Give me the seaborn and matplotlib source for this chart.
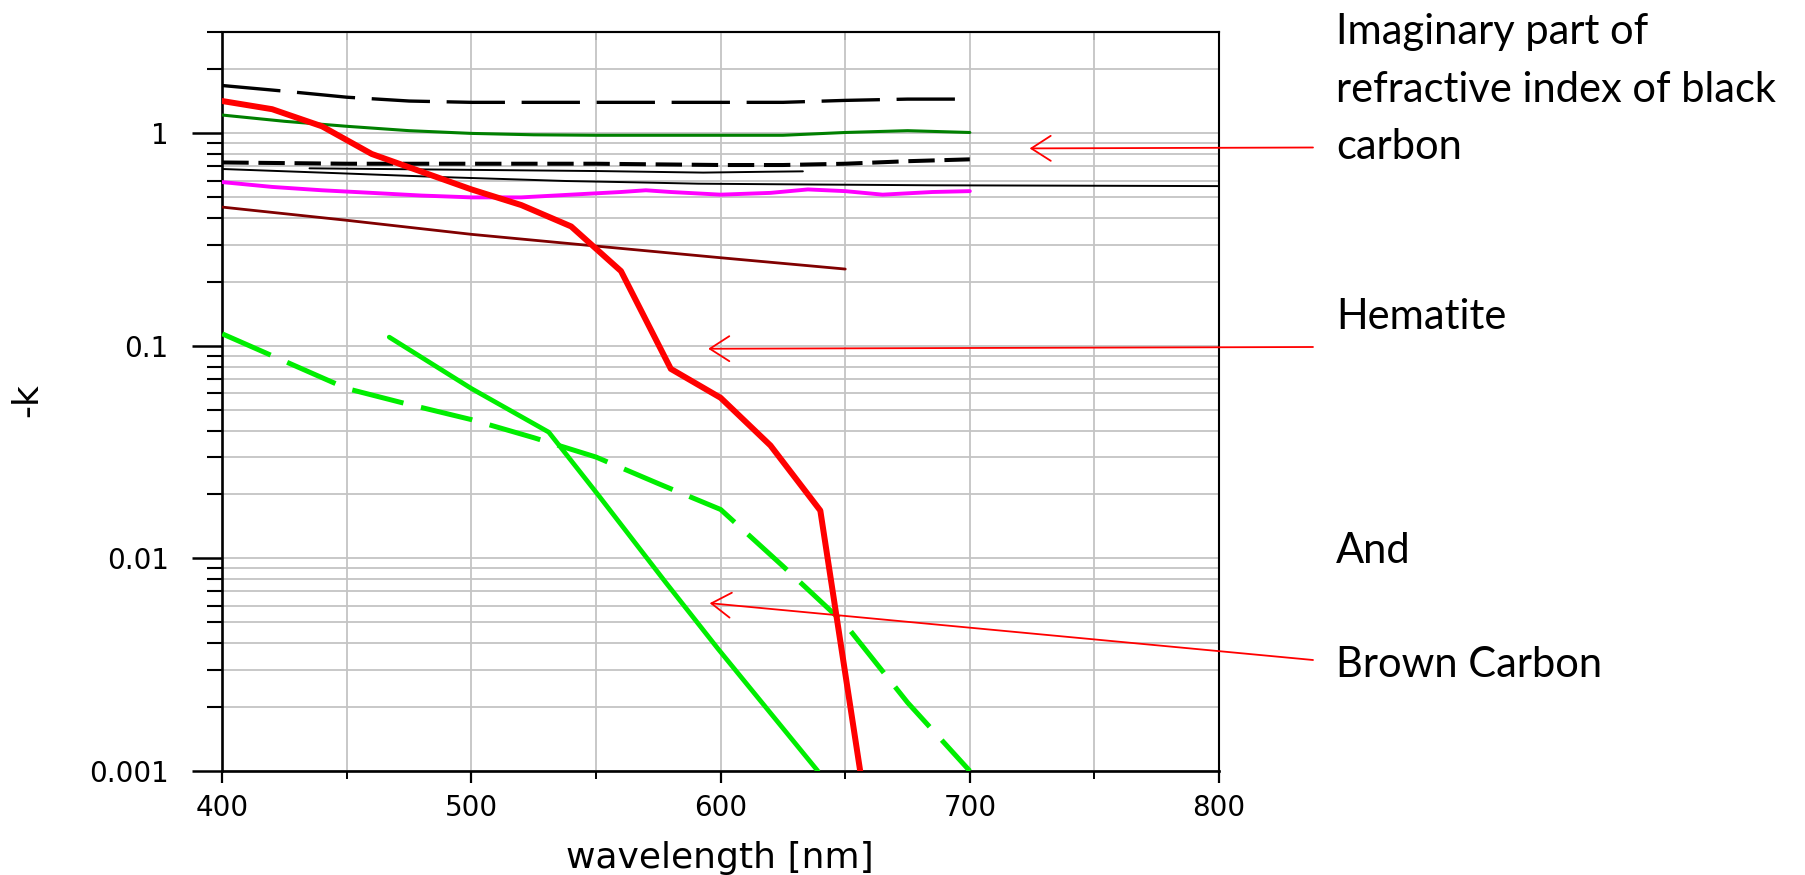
import matplotlib
matplotlib.use("Agg")
import numpy as np
import pandas as pd
import matplotlib.pyplot as plt
import seaborn as sns
from matplotlib.ticker import LogLocator, FixedLocator, NullFormatter, FuncFormatter

# ---- imaginary part of refractive index (-k) versus wavelength [nm] ----
# black carbon curves
bc_dash_long_wl = [400, 425, 450, 475, 500, 550, 600, 625, 650, 675, 700]
bc_dash_long_k = [1.68, 1.58, 1.48, 1.42, 1.40, 1.40, 1.40, 1.40, 1.43, 1.45, 1.45]

bc_green_wl = [400, 425, 450, 475, 500, 525, 550, 600, 625, 650, 675, 700]
bc_green_k = [1.22, 1.14, 1.08, 1.03, 1.00, 0.985, 0.98, 0.98, 0.98, 1.01, 1.03, 1.01]

bc_dash_short_wl = [400, 450, 500, 550, 600, 625, 650, 675, 700]
bc_dash_short_k = [0.73, 0.72, 0.72, 0.72, 0.71, 0.71, 0.72, 0.74, 0.755]

bc_thin_long_wl = [400, 446, 488, 517, 538, 561, 591, 626, 685, 800]
bc_thin_long_k = [0.68, 0.65, 0.623, 0.608, 0.597, 0.59, 0.58, 0.576, 0.57, 0.565]

bc_thin_short_wl = [435, 551, 593, 618, 633]
bc_thin_short_k = [0.685, 0.665, 0.654, 0.66, 0.663]

bc_magenta_wl = [400, 420, 440, 460, 480, 500, 520, 540, 560, 570, 580, 600, 620, 635, 650, 665, 685, 700]
bc_magenta_k = [0.59, 0.56, 0.54, 0.525, 0.51, 0.50, 0.50, 0.515, 0.53, 0.54, 0.53, 0.515, 0.525, 0.545, 0.535, 0.515, 0.53, 0.535]

bc_maroon_wl = [400, 450, 500, 550, 600, 650]
bc_maroon_k = [0.45, 0.39, 0.335, 0.295, 0.26, 0.23]

# hematite
hematite_wl = [400, 420, 440, 460, 480, 500, 520, 540, 560, 580, 600, 620, 640, 656]
hematite_k = [1.42, 1.30, 1.08, 0.80, 0.66, 0.545, 0.46, 0.365, 0.225, 0.078, 0.057, 0.034, 0.0168, 0.001]

# brown carbon
brc_dashed_wl = [400, 450, 475, 500, 525, 550, 575, 600, 625, 650, 675, 700]
brc_dashed_k = [0.114, 0.063, 0.053, 0.045, 0.037, 0.030, 0.0225, 0.017, 0.0092, 0.0049, 0.0021, 0.001]

brc_solid_wl = [467, 500, 531, 551, 578, 599, 639]
brc_solid_k = [0.11, 0.063, 0.0393, 0.0198, 0.0077, 0.00375, 0.001]

x_ticks = [400, 500, 600, 700, 800]
y_ticks = [0.001, 0.01, 0.1, 1]
y_tick_labels = ["0.001", "0.01", "0.1", "1"]

side_notes = [
    ("Imaginary part of", 32),
    ("refractive index of black", 90),
    ("carbon", 147),
    ("Hematite", 317),
    ("And", 551),
    ("Brown Carbon", 665),
]

sns.set_theme(style="white")
plt.rcParams["font.family"] = ["DejaVu Sans"]
plt.rcParams["lines.scale_dashes"] = False
for key in ["text.color", "axes.labelcolor", "xtick.color", "ytick.color"]:
    plt.rcParams[key] = "black"

W, H = 1806, 875
fig = plt.figure(figsize=(W / 100, H / 100), dpi=100)
ax = fig.add_axes([222.3 / W, (H - 771) / H, (1219 - 222.3) / W, (771 - 32) / H])

series = [
    (bc_thin_long_wl, bc_thin_long_k, "black", 1.4, "-"),
    (bc_thin_short_wl, bc_thin_short_k, "black", 1.4, "-"),
    (bc_dash_long_wl, bc_dash_long_k, "black", 2.4, (0, (42, 12))),
    (bc_dash_short_wl, bc_dash_short_k, "black", 2.9, (0, (19, 7))),
    (bc_green_wl, bc_green_k, "#008000", 2.2, "-"),
    (bc_magenta_wl, bc_magenta_k, "#ff00ff", 2.8, "-"),
    (bc_maroon_wl, bc_maroon_k, "#800000", 2.0, "-"),
    (brc_dashed_wl, brc_dashed_k, "#00ee00", 3.6, (0, (38, 13))),
    (brc_solid_wl, brc_solid_k, "#00ee00", 3.4, "-"),
    (hematite_wl, hematite_k, "#ff0000", 4.3, "-"),
]
for i, (wl, k, col, lw, ls) in enumerate(series):
    sns.lineplot(x=wl, y=k, ax=ax, color=col, linewidth=lw, linestyle=ls,
                 estimator=None, sort=False, zorder=3 + i * 0.01)

ax.set_yscale("log")
ax.set_xlim(400, 800)
ax.set_ylim(0.001, 3.0)

ax.xaxis.set_major_locator(FixedLocator(x_ticks))
ax.xaxis.set_minor_locator(FixedLocator([450, 550, 650, 750]))
ax.yaxis.set_major_locator(FixedLocator(y_ticks))
ax.yaxis.set_major_formatter(FuncFormatter(
    lambda v, p: y_tick_labels[int(np.argmin([abs(np.log10(t) - np.log10(v)) for t in y_ticks]))]))
ax.yaxis.set_minor_locator(LogLocator(base=10, subs=np.arange(2, 10), numticks=20))
ax.yaxis.set_minor_formatter(NullFormatter())

ax.grid(True, which="both", color="#c4c4c4", linewidth=1.3, zorder=0)
ax.set_axisbelow(True)

for side in ["left", "bottom"]:
    ax.spines[side].set_linewidth(1.9)
    ax.spines[side].set_color("black")
for side in ["top", "right"]:
    ax.spines[side].set_linewidth(1.5)
    ax.spines[side].set_color("black")
    ax.spines[side].set_visible(True)

ax.tick_params(axis="y", which="major", direction="out", length=21.6, width=1.8,
               pad=17, labelsize=20, colors="black", left=True)
ax.tick_params(axis="y", which="minor", direction="out", length=10.8, width=1.5, left=True)
ax.tick_params(axis="x", which="major", direction="out", length=8.6, width=1.6,
               pad=8, labelsize=20, colors="black", bottom=True)
ax.tick_params(axis="x", which="minor", direction="out", length=5.5, width=1.4, bottom=True)

top = ax.secondary_xaxis("top")
top.set_xticks([450, 550, 650, 750])
top.tick_params(direction="in", length=6, width=1.4, labeltop=False)
top.spines["top"].set_linewidth(1.5)

ax.set_xlabel("wavelength [nm]", fontsize=26)
ax.xaxis.set_label_coords(0.4997, -(858 - 771) / 739)
ax.xaxis.label.set_va("center")
ax.set_ylabel("-k", fontsize=26)
ax.yaxis.set_label_coords((27 - 222.3) / 996, 0.502)
ax.yaxis.label.set_va("center")

# pointers from the notes into the plot
arrow = dict(arrowstyle="->,head_length=0.7,head_width=0.45", color="red", lw=1.3,
             shrinkA=0, shrinkB=0, mutation_scale=20)
for head, tail_y in [((724, 0.85), 147.5), ((595, 0.097), 347), ((595.6, 0.00616), 660)]:
    ax.annotate("", xy=head, xycoords="data", xytext=(1313, H - tail_y),
                textcoords="figure pixels", arrowprops=arrow, zorder=10,
                annotation_clip=False)

for txt, y in side_notes:
    fig.text(1336 / W, 1 - y / H, txt, fontsize=30, family="Lato",
             ha="left", va="center", color="black")

fig.savefig("out.png", dpi=100)
